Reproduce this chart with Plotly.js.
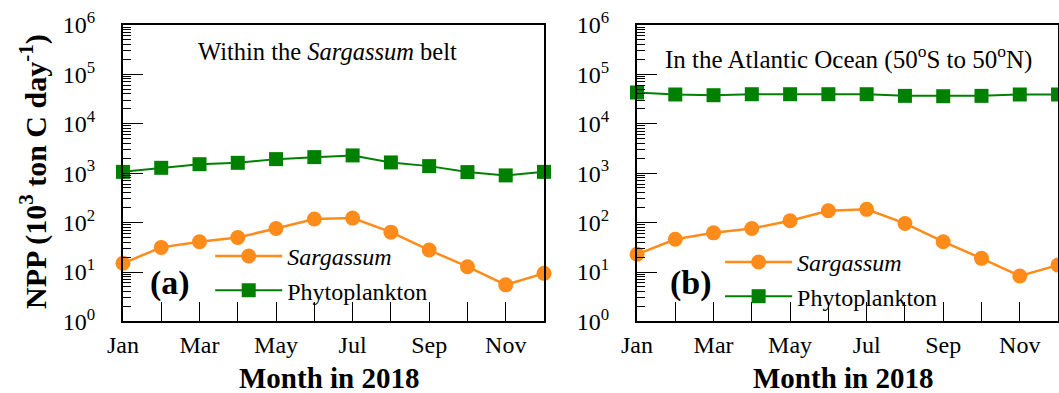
<!DOCTYPE html>
<html><head><meta charset="utf-8">
<script src="https://cdn.plot.ly/plotly-3.0.1.min.js"></script>
<style>html,body{margin:0;padding:0;background:#fff}#chart{width:1059px;height:393px}</style>
</head><body><div id="chart"></div>
<script>
const months = ['Jan','Feb','Mar','Apr','May','Jun','Jul','Aug','Sep','Oct','Nov','Dec'];
const monthTickText = ['Jan','','Mar','','May','','Jul','','Sep','','Nov',''];
const yTickVals = [1,10,100,1000,10000,100000,1000000];
const yTickText = ['10<sup>0</sup>','10<sup>1</sup>','10<sup>2</sup>','10<sup>3</sup>','10<sup>4</sup>','10<sup>5</sup>','10<sup>6</sup>'];
// (a) Within the Sargassum belt
const sargassumBelt = [15, 31.5, 41, 50, 76, 118, 123, 64, 27.8, 12.8, 5.5, 9.4];
const phytoBelt = [1060, 1280, 1515, 1615, 1918, 2105, 2280, 1645, 1385, 1048, 899, 1060];
// (b) In the Atlantic Ocean (50S to 50N)
const sargassumAtl = [22.8, 46, 62, 76, 109, 173, 185, 96, 41, 18.9, 8.3, 13.8];
const phytoAtl = [42700, 38900, 37600, 39400, 39400, 39400, 39400, 36500, 35900, 36500, 38900, 38900];

const FONT = 'Liberation Serif, Times New Roman, serif';
const ORANGE = '#ff8c1a';
const GREEN = '#008000';

function sargTrace(y, xa, ya, leg) {
  return {x: months, y: y, xaxis: xa, yaxis: ya, legend: leg, name: '<i>Sargassum</i>',
    mode: 'lines+markers', cliponaxis: false,
    line: {color: ORANGE, width: 2.5}, marker: {color: ORANGE, symbol: 'circle', size: 15}};
}
function phytoTrace(y, xa, ya, leg) {
  return {x: months, y: y, xaxis: xa, yaxis: ya, legend: leg, name: 'Phytoplankton',
    mode: 'lines+markers', cliponaxis: false,
    line: {color: GREEN, width: 2}, marker: {color: GREEN, symbol: 'square', size: 14}};
}
const data = [
  sargTrace(sargassumBelt, 'x', 'y', 'legend'),
  phytoTrace(phytoBelt, 'x', 'y', 'legend'),
  sargTrace(sargassumAtl, 'x2', 'y2', 'legend2'),
  phytoTrace(phytoAtl, 'x2', 'y2', 'legend2')
];

function xAxis(dom, anchor) {
  return {domain: dom, anchor: anchor, type: 'category', range: [0, 11],
    tickmode: 'array', tickvals: months, ticktext: monthTickText,
    ticks: 'inside', ticklen: 19, tickwidth: 1, tickcolor: '#000',
    showline: true, linewidth: 2, linecolor: '#000', mirror: true,
    showgrid: false, zeroline: false, ticklabelstandoff: 1,
    tickfont: {family: FONT, size: 24, color: '#000'}};
}
function yAxis(anchor) {
  return {domain: [0.182, 0.937], anchor: anchor, type: 'log', range: [0, 6],
    tickmode: 'array', tickvals: yTickVals, ticktext: yTickText,
    ticks: 'inside', ticklen: 20, tickwidth: 1, tickcolor: '#000',
    minor: {ticks: 'inside', ticklen: 8, tickwidth: 1, tickcolor: '#000', dtick: 'D1', showgrid: false},
    showline: true, linewidth: 2, linecolor: '#000', mirror: true,
    showgrid: false, zeroline: false, ticklabelstandoff: 21,
    tickfont: {family: FONT, size: 24, color: '#000'}};
}

function ann(x, y, text, size, extra) {
  return Object.assign({xref: 'paper', yref: 'paper', x: x / 1059, y: 1 - y / 393,
    xanchor: 'center', yanchor: 'middle', showarrow: false, text: text,
    font: {family: FONT, size: size, color: '#000'}}, extra || {});
}

const layout = {
  width: 1059, height: 393,
  margin: {l: 0, r: 0, t: 0, b: 0},
  paper_bgcolor: '#fff', plot_bgcolor: '#fff',
  font: {family: FONT, color: '#000'},
  xaxis: xAxis([0.1161, 0.5137], 'y'),
  yaxis: yAxis('x'),
  xaxis2: xAxis([0.6015, 0.9991], 'y2'),
  yaxis2: yAxis('x2'),
  legend: {x: 0.1985, y: 0.4047, xanchor: 'left', yanchor: 'top', bgcolor: 'rgba(0,0,0,0)',
    font: {family: FONT, size: 24, color: '#000'}, itemwidth: 67, tracegroupgap: 0},
  legend2: {x: 0.6800, y: 0.3896, xanchor: 'left', yanchor: 'top', bgcolor: 'rgba(0,0,0,0)',
    font: {family: FONT, size: 24, color: '#000'}, itemwidth: 67, tracegroupgap: 0},
  showlegend: true,
  annotations: [
    ann(33, 172, '<b>NPP (10<sup>3</sup> ton C day<sup>-1</sup>)</b>', 30, {textangle: -90}),
    ann(329, 378, '<b>Month in 2018</b>', 29),
    ann(843, 378, '<b>Month in 2018</b>', 29),
    ann(327, 52, 'Within the <i>Sargassum</i> belt', 24.5),
    ann(848, 57, 'In the Atlantic Ocean (50<sup>o</sup>S to 50<sup>o</sup>N)', 25),
    ann(170, 283, '<b>(a)</b>', 34),
    ann(691, 283, '<b>(b)</b>', 34)
  ]
};
Plotly.newPlot('chart', data, layout, {displayModeBar: false, staticPlot: true});
</script></body></html>
